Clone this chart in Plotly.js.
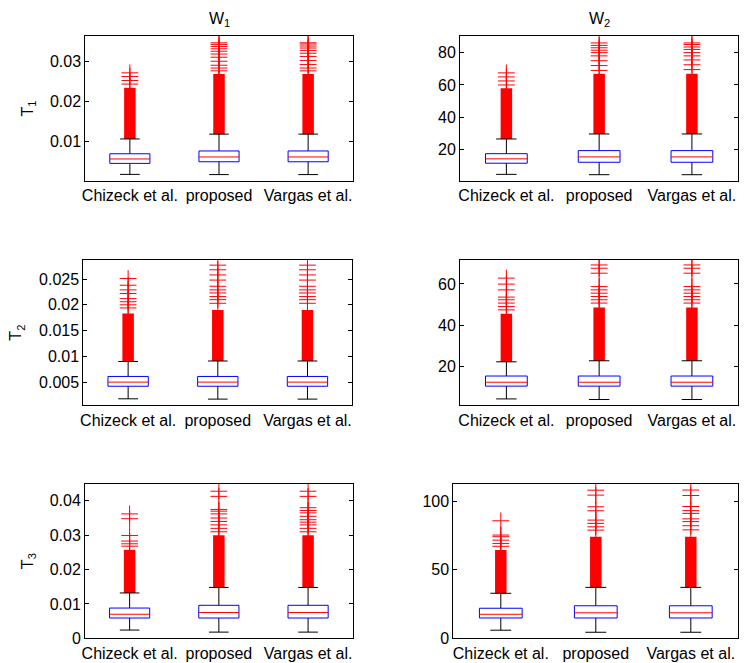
<!DOCTYPE html>
<html>
<head>
<meta charset="utf-8">
<script src="https://cdn.plot.ly/plotly-3.0.1.min.js"></script>
<style>
html,body{margin:0;padding:0;background:#fff;}
#chart{width:747px;height:663px;}
</style>
</head>
<body>
<div id="chart"></div>
<script>
// ---------------- DATA ----------------
const categories = ['Chizeck et al.', 'proposed', 'Vargas et al.'];
const columnTitles = ['W<sub>1</sub>', 'W<sub>2</sub>'];
const rowTitles = ['T<sub>1</sub>', 'T<sub>2</sub>', 'T<sub>3</sub>'];

// T1 / W1
const T1W1_low    = [0.00175, 0.0017, 0.0017];
const T1W1_q1     = [0.0045, 0.0049, 0.0049];
const T1W1_median = [0.0056, 0.0061, 0.0061];
const T1W1_q3     = [0.0069, 0.0076, 0.0076];
const T1W1_high   = [0.0106, 0.0118, 0.0118];
const T1W1_denseTop = [0.0234, 0.0268, 0.0268];
const T1W1_outliers = [
  [0.0243, 0.0252, 0.0262, 0.0271],
  [0.0276, 0.0283, 0.0290, 0.0300, 0.0310, 0.0318, 0.0325, 0.0331, 0.0337, 0.0342, 0.0346],
  [0.0276, 0.0283, 0.0292, 0.0302, 0.0312, 0.0320, 0.0327, 0.0333, 0.0338, 0.0343, 0.0346]
];

// T1 / W2
const T1W2_low    = [4.7, 4.5, 4.5];
const T1W2_q1     = [11.6, 12.2, 12.2];
const T1W2_median = [14.3, 15.5, 15.5];
const T1W2_q3     = [17.5, 19.4, 19.4];
const T1W2_high   = [26.6, 29.7, 29.7];
const T1W2_denseTop = [58.0, 67.0, 67.0];
const T1W2_outliers = [
  [60.0, 62.5, 65.0, 67.5],
  [69.0, 72.0, 75.0, 78.0, 80.0, 81.5, 83.0, 84.5, 86.0],
  [69.5, 72.5, 75.5, 78.0, 80.0, 82.0, 83.5, 85.0, 86.0]
];

// T2 / W1
const T2W1_low    = [0.00176, 0.0017, 0.0017];
const T2W1_q1     = [0.0042, 0.0042, 0.0042];
const T2W1_median = [0.0050, 0.0050, 0.0050];
const T2W1_q3     = [0.0061, 0.0061, 0.0061];
const T2W1_high   = [0.0090, 0.0091, 0.0091];
const T2W1_denseTop = [0.0183, 0.0190, 0.0190];
const T2W1_outliers = [
  [0.0194, 0.0200, 0.0206, 0.0212, 0.0222, 0.0229, 0.0238, 0.0251],
  [0.0203, 0.0210, 0.0216, 0.0223, 0.0229, 0.0236, 0.0248, 0.0258, 0.0268, 0.0277],
  [0.0203, 0.0210, 0.0216, 0.0223, 0.0229, 0.0236, 0.0248, 0.0258, 0.0268, 0.0277]
];

// T2 / W2
const T2W2_low    = [4.2, 3.9, 3.9];
const T2W2_q1     = [10.4, 10.4, 10.4];
const T2W2_median = [12.3, 12.3, 12.3];
const T2W2_q3     = [15.3, 15.3, 15.3];
const T2W2_high   = [22.2, 22.7, 22.7];
const T2W2_denseTop = [45.5, 48.5, 48.5];
const T2W2_outliers = [
  [47.4, 49.0, 50.7, 52.3, 53.6, 57.1, 59.9, 62.8],
  [50.7, 52.3, 53.9, 55.5, 57.1, 58.7, 65.2, 67.6, 69.2],
  [50.7, 52.3, 53.9, 55.5, 57.1, 58.7, 65.2, 67.6, 69.2]
];

// T3 / W1
const T3W1_low    = [0.0024, 0.0018, 0.0018];
const T3W1_q1     = [0.0059, 0.0059, 0.0059];
const T3W1_median = [0.0070, 0.0075, 0.0075];
const T3W1_q3     = [0.0088, 0.0096, 0.0096];
const T3W1_high   = [0.0132, 0.0148, 0.0148];
const T3W1_denseTop = [0.0258, 0.0300, 0.0300];
const T3W1_outliers = [
  [0.0268, 0.0275, 0.0283, 0.0299, 0.0348, 0.0362],
  [0.0310, 0.0320, 0.0330, 0.0340, 0.0350, 0.0362, 0.0370, 0.0375, 0.0413, 0.0428],
  [0.0310, 0.0320, 0.0330, 0.0338, 0.0345, 0.0355, 0.0365, 0.0372, 0.0380, 0.0413, 0.0428]
];

// T3 / W2
const T3W2_low    = [5.9, 4.4, 4.4];
const T3W2_q1     = [14.8, 14.8, 14.8];
const T3W2_median = [17.5, 18.6, 18.6];
const T3W2_q3     = [21.9, 23.7, 23.7];
const T3W2_high   = [32.8, 37.1, 37.1];
const T3W2_denseTop = [64.3, 74.0, 74.0];
const T3W2_outliers = [
  [67.0, 69.0, 71.5, 74.0, 75.2, 85.6],
  [78.8, 81.2, 83.7, 86.1, 92.9, 95.8, 104.3, 107.9],
  [79.0, 82.0, 85.0, 87.0, 91.0, 93.0, 96.0, 104.0, 108.0]
];

// axis ticks
const T1W1_ticks = [0.01, 0.02, 0.03];          const T1W1_tickText = ['0.01', '0.02', '0.03'];
const T1W2_ticks = [20, 40, 60, 80];            const T1W2_tickText = ['20', '40', '60', '80'];
const T2W1_ticks = [0.005, 0.01, 0.015, 0.02, 0.025]; const T2W1_tickText = ['0.005', '0.01', '0.015', '0.02', '0.025'];
const T2W2_ticks = [20, 40, 60];                const T2W2_tickText = ['20', '40', '60'];
const T3W1_ticks = [0, 0.01, 0.02, 0.03, 0.04]; const T3W1_tickText = ['0', '0.01', '0.02', '0.03', '0.04'];
const T3W2_ticks = [0, 50, 100];                const T3W2_tickText = ['0', '50', '100'];

// ---------------- LAYOUT / BUILD ----------------
const W = 747, H = 663;
const panels = [
  {low:T1W1_low,q1:T1W1_q1,med:T1W1_median,q3:T1W1_q3,high:T1W1_high,dense:T1W1_denseTop,out:T1W1_outliers,
   ticks:T1W1_ticks,tickText:T1W1_tickText,range:[0.0001,0.0363],px:[85.3,352.7],py:[36,181]},
  {low:T1W2_low,q1:T1W2_q1,med:T1W2_median,q3:T1W2_q3,high:T1W2_high,dense:T1W2_denseTop,out:T1W2_outliers,
   ticks:T1W2_ticks,tickText:T1W2_tickText,range:[0.6,90.3],px:[460,738.3],py:[36,181]},
  {low:T2W1_low,q1:T2W1_q1,med:T2W1_median,q3:T2W1_q3,high:T2W1_high,dense:T2W1_denseTop,out:T2W1_outliers,
   ticks:T2W1_ticks,tickText:T2W1_tickText,range:[0.0005,0.0287],px:[83.3,352.3],py:[260,405.3]},
  {low:T2W2_low,q1:T2W2_q1,med:T2W2_median,q3:T2W2_q3,high:T2W2_high,dense:T2W2_denseTop,out:T2W2_outliers,
   ticks:T2W2_ticks,tickText:T2W2_tickText,range:[1.1,71.6],px:[460,738.3],py:[260,405.3]},
  {low:T3W1_low,q1:T3W1_q1,med:T3W1_median,q3:T3W1_q3,high:T3W1_high,dense:T3W1_denseTop,out:T3W1_outliers,
   ticks:T3W1_ticks,tickText:T3W1_tickText,range:[0,0.0449],px:[85,352.7],py:[484,638.3]},
  {low:T3W2_low,q1:T3W2_q1,med:T3W2_median,q3:T3W2_q3,high:T3W2_high,dense:T3W2_denseTop,out:T3W2_outliers,
   ticks:T3W2_ticks,tickText:T3W2_tickText,range:[0,112.4],px:[453.3,738.3],py:[484,638.3]}
];

const FONT = 'Liberation Sans, Arial, Helvetica, sans-serif';
const traces = [];
const layout = {
  width: W, height: H, autosize: false,
  margin: {l:0, r:0, t:0, b:0, pad:0},
  paper_bgcolor: '#fff', plot_bgcolor: '#fff',
  showlegend: false, barmode: 'overlay',
  font: {family: FONT, size: 16, color: '#000'},
  annotations: []
};

const BOXW = 0.45, CAPW = 0.22;
panels.forEach((p, k) => {
  const n = k + 1;
  const xa = 'x' + (n === 1 ? '' : n), ya = 'y' + (n === 1 ? '' : n);
  const pxPerUnit = (p.px[1] - p.px[0]) / 3;
  const pos = categories.map((c, i) => i + 1);

  // dense outlier band (overlapping '+' markers)
  traces.push({type:'bar', x: pos, base: p.high, y: p.dense.map((d, i) => d - p.high[i]),
    width: 11.5 / pxPerUnit, marker:{color:'#ff0000', line:{width:0}}, xaxis:xa, yaxis:ya, hoverinfo:'skip'});

  // sparse outliers
  const ox = [], oy = [];
  p.out.forEach((arr, i) => arr.forEach(v => { ox.push(pos[i]); oy.push(v); }));
  traces.push({type:'scatter', mode:'markers', x: ox, y: oy, xaxis:xa, yaxis:ya,
    marker:{symbol:'cross-thin', size:12, color:'#ff0000', line:{color:'#ff0000', width:1}}, hoverinfo:'skip'});

  // whiskers
  const wx = [], wy = [];
  pos.forEach((c, i) => {
    wx.push(c, c, null, c, c, null, c - CAPW/2, c + CAPW/2, null, c - CAPW/2, c + CAPW/2, null);
    wy.push(p.q3[i], p.high[i], null, p.q1[i], p.low[i], null, p.high[i], p.high[i], null, p.low[i], p.low[i], null);
  });
  traces.push({type:'scatter', mode:'lines', x: wx, y: wy, xaxis:xa, yaxis:ya,
    line:{color:'#000', width:1}, hoverinfo:'skip'});

  // boxes
  const bx = [], by = [];
  pos.forEach((c, i) => {
    bx.push(c - BOXW/2, c + BOXW/2, c + BOXW/2, c - BOXW/2, c - BOXW/2, null);
    by.push(p.q1[i], p.q1[i], p.q3[i], p.q3[i], p.q1[i], null);
  });
  traces.push({type:'scatter', mode:'lines', x: bx, y: by, xaxis:xa, yaxis:ya, fill:'none',
    line:{color:'#0000ff', width:1}, hoverinfo:'skip'});

  // medians
  const mx = [], my = [];
  pos.forEach((c, i) => {
    mx.push(c - BOXW/2, c + BOXW/2, null);
    my.push(p.med[i], p.med[i], null);
  });
  traces.push({type:'scatter', mode:'lines', x: mx, y: my, xaxis:xa, yaxis:ya,
    line:{color:'#ff0000', width:1}, hoverinfo:'skip'});

  layout['xaxis' + (n === 1 ? '' : n)] = {
    domain: [p.px[0] / W, p.px[1] / W], anchor: ya, range: [0.5, 3.5],
    tickvals: pos, ticktext: categories, ticks: '', showline: true, mirror: true,
    linecolor: '#000', linewidth: 1, showgrid: false, zeroline: false, fixedrange: true,
    tickfont: {family: FONT, size: 16, color: '#000'}
  };
  layout['yaxis' + (n === 1 ? '' : n)] = {
    domain: [1 - p.py[1] / H, 1 - p.py[0] / H], anchor: xa, range: p.range,
    tickvals: p.ticks, ticktext: p.tickText, ticks: 'inside', ticklen: 4, tickcolor: '#000',
    mirror: 'ticks', showline: true, linecolor: '#000', linewidth: 1,
    showgrid: false, zeroline: false, fixedrange: true,
    tickfont: {family: FONT, size: 16, color: '#000'}
  };
});

// column titles
[0, 1].forEach(j => {
  const p = panels[j];
  layout.annotations.push({text: columnTitles[j], xref:'paper', yref:'paper',
    x: (p.px[0] + p.px[1]) / 2 / W, y: 1 - 19 / H, xanchor:'center', yanchor:'middle',
    showarrow:false, font:{family: FONT, size:16, color:'#000'}});
});
// row titles
const rowX = [28, 17, 28];
[0, 2, 4].forEach((pi, r) => {
  const p = panels[pi];
  layout.annotations.push({text: rowTitles[r], xref:'paper', yref:'paper', textangle:-90,
    x: rowX[r] / W, y: 1 - (p.py[0] + p.py[1]) / 2 / H, xanchor:'center', yanchor:'middle',
    showarrow:false, font:{family: FONT, size:16, color:'#000'}});
});

Plotly.newPlot('chart', traces, layout, {staticPlot: true, displayModeBar: false});
</script>
</body>
</html>
